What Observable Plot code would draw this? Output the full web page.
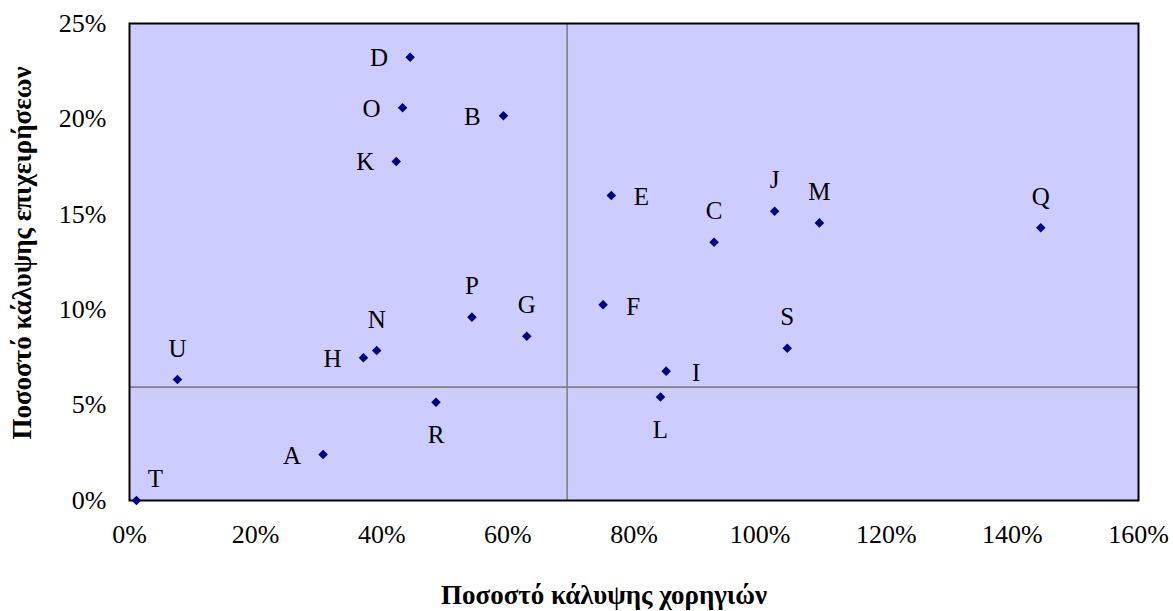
<!DOCTYPE html>
<html>
<head>
<meta charset="utf-8">
<script src="https://cdn.jsdelivr.net/npm/d3@7"></script>
<script src="https://cdn.jsdelivr.net/npm/@observablehq/plot@0.6"></script>
<style>
  html, body { margin: 0; padding: 0; background: #fff; }
  #chart svg { display: block; }
</style>
</head>
<body>
<div id="chart"></div>
<script>
// ---- data ----
const names = ["A","B","C","D","E","F","G","H","I","J","K","L","M","N","O","P","Q","R","S","T","U"];
const grantCoverage = [30.7, 59.3, 92.7, 44.5, 76.4, 75.1, 63.0, 37.1, 85.1, 102.3, 42.3, 84.2, 109.4, 39.2, 43.3, 54.3, 144.5, 48.6, 104.3, 1.1, 7.6];
const businessCoverage = [2.41, 20.16, 13.54, 23.23, 15.99, 10.26, 8.61, 7.48, 6.78, 15.16, 17.77, 5.42, 14.55, 7.86, 20.58, 9.61, 14.29, 5.15, 7.98, 0.0, 6.34];
const refX = [69.4];
const refY = [5.94];
const xTicks = [0, 20, 40, 60, 80, 100, 120, 140, 160];
const yTicks = [0, 5, 10, 15, 20, 25];
const xTitle = "Ποσοστό κάλυψης χορηγιών";
const yTitle = "Ποσοστό κάλυψης επιχειρήσεων";

// label placement (style)
const placement = {
  A: "left", B: "left", D: "left", H: "left", K: "left", O: "left",
  E: "right", F: "right", I: "right",
  C: "above", G: "above", J: "above", M: "above", N: "above", P: "above", Q: "above", S: "above", U: "above",
  L: "below", R: "below",
  T: "aboveRight"
};
const offsets = {
  left: {dx: -31, dy: 1},
  right: {dx: 30, dy: 2},
  above: {dx: 0, dy: -31},
  below: {dx: 0, dy: 33},
  aboveRight: {dx: 19, dy: -22}
};

const points = names.map((n, i) => ({name: n, x: grantCoverage[i], y: businessCoverage[i], pos: placement[n]}));

const labelMarks = Object.keys(offsets).map(k =>
  Plot.text(points.filter(d => d.pos === k), {
    x: "x", y: "y", text: "name",
    dx: offsets[k].dx, dy: offsets[k].dy,
    fill: "black", fontSize: 25
  })
);

const chart = Plot.plot({
  width: 1173,
  height: 611,
  marginLeft: 129,
  marginRight: 35,
  marginTop: 23,
  marginBottom: 111,
  style: {fontFamily: "'Liberation Serif', 'Times New Roman', serif", fontSize: "26px", background: "#fff", color: "black"},
  x: {domain: [0, 160]},
  y: {domain: [0, 25]},
  marks: [
    Plot.frame({fill: "#CCCCFF"}),
    Plot.ruleX(refX, {stroke: "#808080", strokeWidth: 1.6}),
    Plot.ruleY(refY, {stroke: "#808080", strokeWidth: 1.6}),
    Plot.frame({stroke: "black", strokeWidth: 2}),
    Plot.dot(points, {x: "x", y: "y", symbol: "diamond2", r: 4.3, fill: "#000080", stroke: "none"}),
    ...labelMarks,
    Plot.axisX({ticks: xTicks, tickFormat: d => d + "%", tickSize: 0, tickPadding: 24, label: null, fontSize: 26}),
    Plot.axisY({ticks: yTicks, tickFormat: d => d + "%", tickSize: 0, tickPadding: 23, label: null, fontSize: 26}),
    Plot.text([xTitle], {frameAnchor: "bottom", textAnchor: "middle", lineAnchor: "middle", dy: 95, dx: -30, fontWeight: "bold", fontSize: 27}),
    Plot.text([yTitle], {frameAnchor: "left", textAnchor: "middle", lineAnchor: "middle", dx: -107, dy: -9, rotate: -90, fontWeight: "bold", fontSize: 27})
  ]
});
document.getElementById("chart").appendChild(chart);
</script>
</body>
</html>
